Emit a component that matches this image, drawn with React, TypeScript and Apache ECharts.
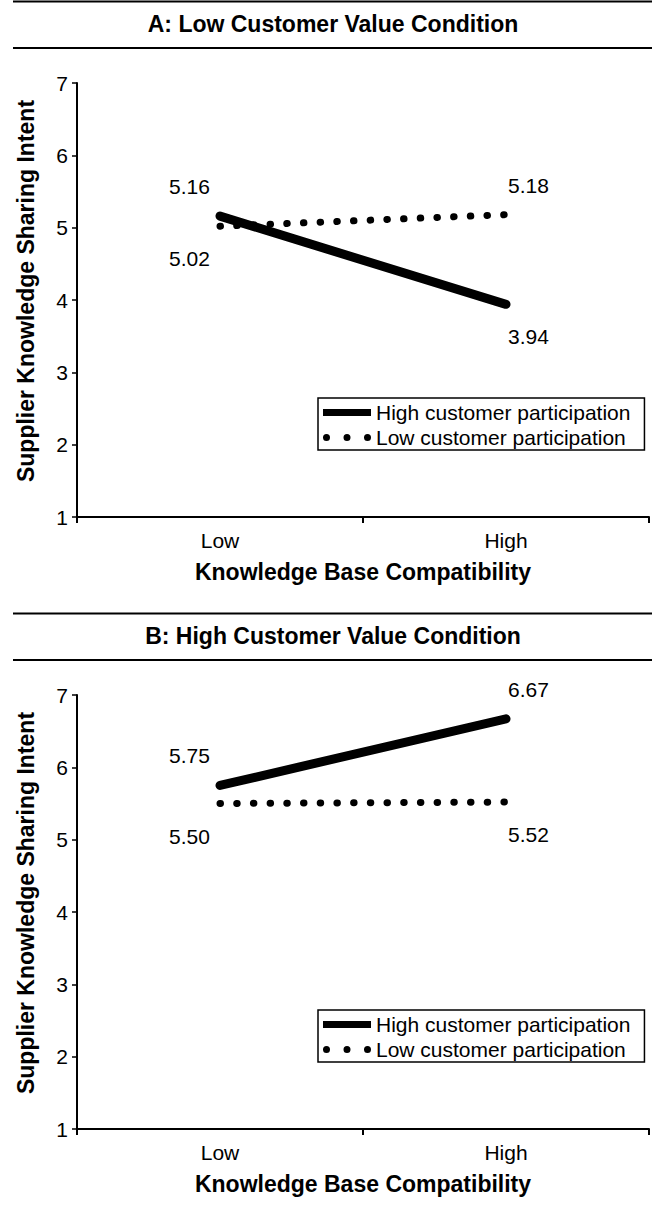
import React, { useEffect, useRef } from 'react';
import * as echarts from 'echarts';

// ---- data ----
const categories = ['Low', 'High'];
const yMin = 1;
const yMax = 7;
const yStep = 1;
const panelTitles = ['A: Low Customer Value Condition', 'B: High Customer Value Condition'];
const seriesNames = ['High customer participation', 'Low customer participation'];
const panelAHigh = [5.16, 3.94];
const panelALow = [5.02, 5.18];
const panelBHigh = [5.75, 6.67];
const panelBLow = [5.5, 5.52];
const xAxisName = 'Knowledge Base Compatibility';
const yAxisName = 'Supplier Knowledge Sharing Intent';

// ---- layout / style ----
const W = 652;
const H = 1217;
const FONT = '"Liberation Sans", Arial, Helvetica, sans-serif';
const PANEL_OFFSET = 612;
const GRID_LEFT = 77;
const GRID_TOP = 83;
const GRID_W = 572;
const GRID_H = 434;

const LINE_ICON = 'path://M0,0H48V7H0Z';
const DOTS_ICON =
  'path://M0,3.5a3.5,3.5 0 1,0 7,0a3.5,3.5 0 1,0 -7,0Z M20.5,3.5a3.5,3.5 0 1,0 7,0a3.5,3.5 0 1,0 -7,0Z M41,3.5a3.5,3.5 0 1,0 7,0a3.5,3.5 0 1,0 -7,0Z';

function labelled(vals: number[], other: number[]) {
  return vals.map((v, i) => {
    const above = v >= other[i];
    const dx = i === 0 ? -30 : 23;
    const dy = above ? -29 : 33;
    return { value: v, label: { position: [dx, dy] } };
  });
}

function buildOption() {
  const panels = [
    { high: panelAHigh, low: panelALow },
    { high: panelBHigh, low: panelBLow },
  ];
  const grids: any[] = [];
  const xAxes: any[] = [];
  const yAxes: any[] = [];
  const series: any[] = [];
  const legends: any[] = [];
  const graphics: any[] = [];

  const labelCfg = {
    show: true,
    formatter: (p: any) => Number(p.value).toFixed(2),
    fontSize: 21,
    fontFamily: FONT,
    color: '#000',
    align: 'center',
    verticalAlign: 'middle',
  };

  panels.forEach((pd, p) => {
    const off = p * PANEL_OFFSET;
    grids.push({ left: GRID_LEFT, top: GRID_TOP + off, width: GRID_W, height: GRID_H, containLabel: false });
    xAxes.push({
      type: 'category',
      gridIndex: p,
      data: categories,
      boundaryGap: true,
      axisLine: { lineStyle: { color: '#000', width: 2 } },
      axisTick: { show: true, alignWithLabel: false, length: 6, lineStyle: { color: '#000', width: 2 } },
      axisLabel: { color: '#000', fontSize: 21, fontFamily: FONT, margin: 13 },
      name: xAxisName,
      nameLocation: 'middle',
      nameGap: 43,
      nameTextStyle: { color: '#000', fontSize: 23, fontWeight: 'bold', fontFamily: FONT },
      splitLine: { show: false },
    });
    yAxes.push({
      type: 'value',
      gridIndex: p,
      min: yMin,
      max: yMax,
      interval: yStep,
      axisLine: { show: true, lineStyle: { color: '#000', width: 2 } },
      axisTick: { show: true, length: 5, lineStyle: { color: '#000', width: 1.5 } },
      axisLabel: { color: '#000', fontSize: 21, fontFamily: FONT, margin: 9 },
      splitLine: { show: false },
      name: yAxisName,
      nameLocation: 'middle',
      nameGap: 40,
      nameTextStyle: {
        color: '#000',
        fontSize: 23,
        fontWeight: 'bold',
        fontFamily: FONT,
        padding: [0, 0, 0, 18],
      },
    });
    series.push({
      name: seriesNames[0],
      type: 'line',
      xAxisIndex: p,
      yAxisIndex: p,
      data: labelled(pd.high, pd.low),
      symbol: 'circle',
      symbolSize: 1,
      showSymbol: true,
      itemStyle: { color: '#000', borderWidth: 0 },
      lineStyle: { color: '#000', width: 9, cap: 'round' },
      label: labelCfg,
      z: 3,
    });
    series.push({
      name: seriesNames[1],
      type: 'line',
      xAxisIndex: p,
      yAxisIndex: p,
      data: labelled(pd.low, pd.high),
      symbol: 'circle',
      symbolSize: 1,
      showSymbol: true,
      itemStyle: { color: '#000', borderWidth: 0 },
      lineStyle: { color: '#000', width: 7, type: [0.5, 16.2], cap: 'round' },
      label: labelCfg,
      z: 2,
    });
    legends.push({
      orient: 'vertical',
      left: 318,
      top: 398 + off,
      itemWidth: 48,
      itemHeight: 7,
      itemGap: 4,
      symbolKeepAspect: false,
      padding: [4, 14, 2, 5],
      borderColor: '#000',
      borderWidth: 1.5,
      borderRadius: 0,
      selectedMode: false,
      itemStyle: { color: '#000', borderWidth: 0 },
      textStyle: { fontSize: 21, color: '#000', fontFamily: FONT },
      data: [
        { name: seriesNames[0], icon: LINE_ICON },
        { name: seriesNames[1], icon: DOTS_ICON },
      ],
    });
    graphics.push(
      { type: 'line', shape: { x1: 13, y1: 1.5 + off, x2: W, y2: 1.5 + off }, style: { stroke: '#000', lineWidth: 2 } },
      { type: 'line', shape: { x1: 13, y1: 48 + off, x2: W, y2: 48 + off }, style: { stroke: '#000', lineWidth: 2 } },
      {
        type: 'text',
        x: 333,
        y: 24 + off,
        style: {
          text: panelTitles[p],
          fontSize: 23,
          fontWeight: 'bold',
          fontFamily: FONT,
          fill: '#000',
          align: 'center',
          verticalAlign: 'middle',
        },
      }
    );
  });

  return {
    animation: false,
    backgroundColor: '#fff',
    grid: grids,
    xAxis: xAxes,
    yAxis: yAxes,
    series,
    legend: legends,
    graphic: graphics,
  };
}

export default function App() {
  const ref = useRef<HTMLDivElement>(null);
  useEffect(() => {
    if (!ref.current) return;
    const chart = echarts.init(ref.current, undefined, { renderer: 'svg' });
    chart.setOption(buildOption() as any);
    return () => chart.dispose();
  }, []);
  return <div ref={ref} style={{ position: 'absolute', left: 0, top: 0, width: W, height: H }} />;
}
